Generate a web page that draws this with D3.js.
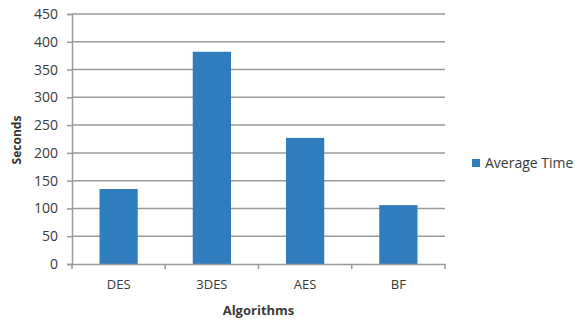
<!DOCTYPE html>
<html><head><meta charset="utf-8">
<script src="https://cdn.jsdelivr.net/npm/d3@7"></script>
<style>body{margin:0;background:#fff}svg{display:block}text{font-family:"Open Sans",sans-serif}</style>
</head><body>
<script>
const categories = ["DES", "3DES", "AES", "BF"];
const values = [135, 382, 227, 106];
const yTicks = [0, 50, 100, 150, 200, 250, 300, 350, 400, 450];
const seriesName = "Average Time";

const W = 580, H = 320;
const m = {left: 72, right: 135, top: 14, bottom: 56};
const svg = d3.select("body").append("svg").attr("width", W).attr("height", H);

const x = d3.scaleBand().domain(categories).range([m.left, W - m.right]).paddingInner(0.59).paddingOuter(0.295);
const xb = d3.scaleBand().domain(categories).range([m.left, W - m.right]);
const y = d3.scaleLinear().domain([0, 450]).range([H - m.bottom, m.top]);

// gridlines
svg.append("g").selectAll("line").data(yTicks.filter(d => d > 0)).join("line")
  .attr("x1", m.left).attr("x2", W - m.right)
  .attr("y1", d => y(d)).attr("y2", d => y(d))
  .attr("stroke", "#9a9a9a").attr("stroke-width", 1.5);

// bars
svg.append("g").selectAll("rect").data(values).join("rect")
  .attr("x", (d, i) => x(categories[i])).attr("width", x.bandwidth())
  .attr("y", d => y(d)).attr("height", d => y(0) - y(d))
  .attr("fill", "#2f7dbd");

// y axis
const ya = svg.append("g").attr("transform", `translate(${m.left},0)`)
  .call(d3.axisLeft(y).tickValues(yTicks).tickSize(5).tickPadding(9));
ya.select(".domain").attr("stroke", "#9a9a9a").attr("stroke-width", 1.5);
ya.selectAll(".tick line").attr("stroke", "#9a9a9a").attr("stroke-width", 1.5);
ya.selectAll("text").attr("font-size", 14).attr("fill", "#3a3a3a").attr("font-family", "Open Sans");

// x axis
const xa = svg.append("g").attr("transform", `translate(0,${y(0)})`)
  .call(d3.axisBottom(x).tickSize(0).tickPadding(16));
xa.select(".domain").attr("stroke", "#9a9a9a").attr("stroke-width", 1.5);
xa.selectAll("text").attr("font-size", 13).attr("fill", "#3a3a3a").attr("font-family", "Open Sans");
svg.append("g").selectAll("line").data(categories.map(c => xb(c)).concat([W - m.right])).join("line")
  .attr("x1", d => d).attr("x2", d => d).attr("y1", y(0)).attr("y2", y(0) + 5)
  .attr("stroke", "#9a9a9a").attr("stroke-width", 1.5);

// axis titles
svg.append("text").attr("x", (m.left + W - m.right) / 2).attr("y", 315)
  .attr("text-anchor", "middle").attr("font-size", 13).attr("font-weight", "bold").attr("fill", "#3a3a3a")
  .text("Algorithms");
svg.append("text").attr("transform", `translate(21,140) rotate(-90)`)
  .attr("text-anchor", "middle").attr("font-size", 12).attr("font-weight", "bold").attr("fill", "#333")
  .text("Seconds");

// legend
const lg = svg.append("g").attr("transform", "translate(472,159)");
lg.append("rect").attr("width", 8).attr("height", 8).attr("fill", "#2f7dbd");
lg.append("text").attr("x", 13).attr("y", 9).attr("font-size", 14).attr("fill", "#3a3a3a").text(seriesName);
</script>
</body></html>
